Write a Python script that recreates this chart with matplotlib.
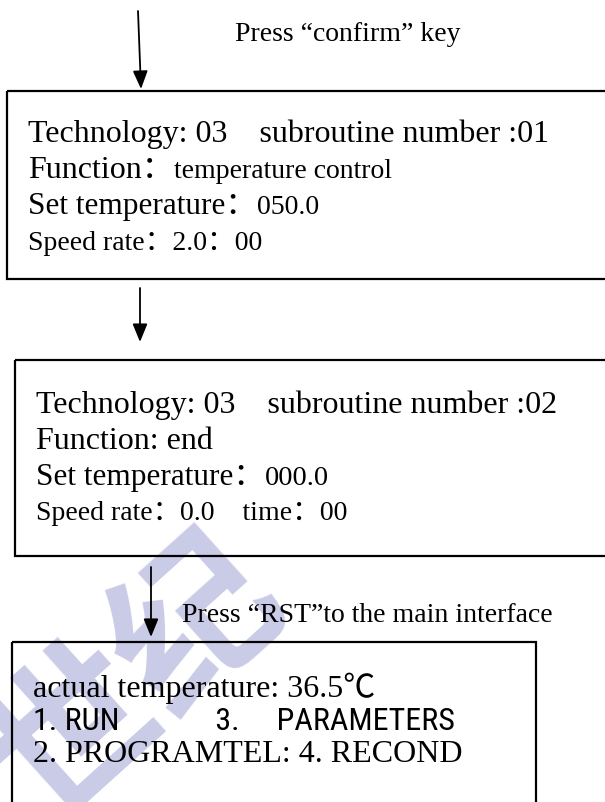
import matplotlib
matplotlib.use("Agg")
import matplotlib.pyplot as plt
from matplotlib import font_manager
from matplotlib.patches import Rectangle

# ---- text content ----
top_note = "Press “confirm” key"
mid_note = "Press “RST”to the main interface"

# each line is a list of (text, size) segments
box1_lines = [
    [("Technology: 03    subroutine number :01", 23)],
    [("Function：", 23), ("temperature control", 20)],
    [("Set temperature：", 22.5), ("050.0", 20)],
    [("Speed rate：2.0：00", 20)],
]
box2_lines = [
    [("Technology: 03    subroutine number :02", 23)],
    [("Function: end", 23)],
    [("Set temperature：", 22.5), ("000.0", 20.5)],
    [("Speed rate：", 20), ("0.0    time：00", 20)],
]
box3_lines = [
    [("actual temperature: 36.5℃", 23)],
    [("1. RUN             3.     PARAMETERS", 23)],
    [("2. PROGRAMTEL: 4. RECOND", 23)],
]

installed = {f.name for f in font_manager.fontManager.ttflist}


def pick(cands, fallback):
    found = [n for n in cands if n in installed]
    return found or [fallback]


# Times-like face, then a CJK face for the full-width colon and ℃
SERIF = ["Liberation Serif"] + pick(["Noto Serif CJK SC", "Noto Sans CJK SC"],
                                    "Noto Sans CJK SC")[:1]
# condensed sans for the menu line
NARROW = pick(["Liberation Sans Narrow", "Roboto Condensed", "Archivo Narrow",
               "PT Sans Narrow"], "DejaVu Sans")[:1]

W, H = 605, 803
fig = plt.figure(figsize=(W / 100, H / 100), dpi=100)
ax = fig.add_axes([0, 0, 1, 1])
ax.set_xlim(0, W)
ax.set_ylim(H, 0)
ax.axis("off")

# watermark (light blue, behind everything)
ax.text(-40, 850, "世纪", fontsize=118, color="#c9cbe7", rotation=42,
        family=["Noto Sans CJK SC"], fontweight="bold", ha="left", va="bottom",
        zorder=0)

renderer = fig.canvas.get_renderer()


def draw_line(x, y, segs, family, max_w=None):
    for txt, size in segs:
        t = ax.text(x, y, txt, fontsize=size, family=family, va="baseline",
                    ha="left", color="black", zorder=3)
        bb = t.get_window_extent(renderer=renderer)
        if max_w is not None and bb.width > max_w:
            t.set_fontsize(size * max_w / bb.width)
            bb = t.get_window_extent(renderer=renderer)
        x += bb.width  # axes is 1 px per unit


def draw_box(x0, y0, x1, y1):
    ax.add_patch(Rectangle((x0, y0), x1 - x0, y1 - y0, fill=False,
                           ec="black", lw=1.6, zorder=2))


def draw_arrow(x, y0, y1, xe=None):
    ax.annotate("", xy=(xe if xe is not None else x, y1), xytext=(x, y0),
                arrowprops=dict(arrowstyle="-|>,head_length=1.1,head_width=0.45",
                                color="black", lw=1.3, shrinkA=0, shrinkB=0),
                zorder=3)


# arrow 1 + note
draw_arrow(138, 12, 90, xe=141)
ax.text(235, 41, top_note, fontsize=20, family=SERIF, va="baseline", zorder=3)

# box 1
draw_box(7, 92, W + 10, 280)
for segs, yb in zip(box1_lines, [142, 178, 214, 250]):
    draw_line(28, yb, segs, SERIF)

# arrow 2
draw_arrow(140, 289, 343)

# box 2
draw_box(15, 361, W + 10, 557)
for segs, yb in zip(box2_lines, [413, 449, 485, 520]):
    draw_line(36, yb, segs, SERIF)

# arrow 3 + note
draw_arrow(151, 568, 638)
ax.text(182, 622, mid_note, fontsize=20, family=SERIF, va="baseline", zorder=3)

# box 3
draw_box(12, 643, 536, H + 10)
for i, (segs, yb) in enumerate(zip(box3_lines, [697, 730, 762])):
    if i == 1:
        draw_line(33, yb, segs, NARROW, max_w=430)
    else:
        draw_line(33, yb, segs, SERIF)

fig.savefig("out.png", dpi=100, facecolor="white")
